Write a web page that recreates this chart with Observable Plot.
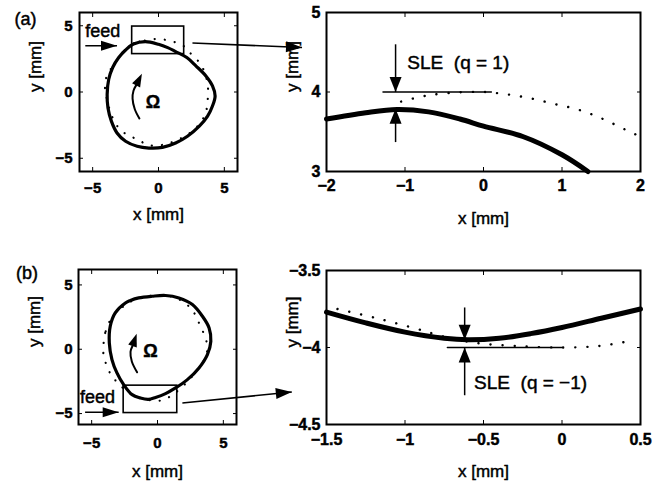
<!DOCTYPE html>
<html><head><meta charset="utf-8">
<script src="https://cdn.jsdelivr.net/npm/d3@7"></script>
<script src="https://cdn.jsdelivr.net/npm/@observablehq/plot@0.6"></script>
<style>
body{margin:0;background:#fff;}
#fig{position:relative;width:661px;height:489px;overflow:hidden;background:#fff;}
#fig > div{position:absolute;}
#fig svg{overflow:visible;}
#fig svg text{stroke:black;stroke-width:0.45px;}
</style></head><body><div id="fig"></div>
<script>
const FONT = "'Liberation Sans', Arial, Helvetica, sans-serif";

// ---------- tick values ----------
const loopTicks = [-5, 0, 5];
const zoomAXTicks = [-2, -1, 0, 1, 2];
const zoomAYTicks = [3, 4, 5];
const zoomBXTicks = [-1.5, -1, -0.5, 0, 0.5];
const zoomBYTicks = [-4.5, -4, -3.5];

// ---------- panel (a) full loop ----------
const loopASolid = [[-2.5,3.17],[-1.9,3.62],[-1.0,3.8],[0.0,3.6],[0.7,3.35],[1.3,3.05],[2.15,2.6],[2.84,1.97],[3.6,1.21],[4.1,0.46],[4.3,-0.3],[4.1,-1.06],[3.73,-1.82],[3.1,-2.58],[2.2,-3.34],[1.3,-3.85],[0.3,-4.18],[-0.73,-4.23],[-1.62,-4.1],[-2.5,-3.72],[-3.15,-3.09],[-3.58,-2.2],[-3.84,-1.19],[-3.9,-0.18],[-3.78,0.96],[-3.48,1.85],[-3.02,2.6]];
const loopADotted = [[-1.6,3.75],[-1.05,3.88],[-0.4,3.99],[0.3,3.97],[0.9,3.85],[1.5,3.67],[2.0,3.4],[2.4,2.95],[3.04,2.3],[3.5,1.5],[3.75,0.4],[3.73,-0.68],[3.6,-1.5],[3.2,-2.3],[2.5,-3.0],[1.6,-3.55],[0.5,-3.95],[-0.4,-4.05],[-0.9,-3.97],[-1.54,-3.6],[-2.31,-3.27],[-3.02,-2.71],[-3.55,-1.8],[-3.91,-0.56],[-4.04,0.08],[-4.04,0.84],[-3.7,1.6],[-3.1,2.5],[-2.4,3.3]];
const boxA = [{x1:-2.0, x2:1.95, y1:2.86, y2:4.94}];
const feedArrowA = [{x1:-5.56, y1:3.49, x2:-3.15, y2:3.49}];
const feedTextA = [{x:-5.57, y:4.56, label:"feed"}];
const linkArrowA = [{x1:2.58, y1:3.7, x2:10.9, y2:3.36}];
const omegaArcA = [[-1.45,-2.0],[-1.8,-1.3],[-1.97,-0.5],[-1.9,0.1],[-1.7,0.5]];
const omegaTextA = [{x:-0.42, y:-0.74, label:"Ω"}];

// ---------- panel (a) zoom ----------
const zoomASolid = [[-2,3.66],[-1.5,3.74],[-1.1,3.78],[-0.7,3.75],[-0.3,3.66],[0,3.57],[0.5,3.44],[1,3.21],[1.33,3.0]];
const zoomADotted = [[-1.05,3.88],[-0.75,3.95],[-0.4,3.99],[0,4.0],[0.3,3.97],[0.6,3.92],[0.9,3.85],[1.2,3.78],[1.5,3.67],[1.8,3.53],[1.95,3.46]];
const sleLineA = [[-1.28,4],[0.1,4]];
const sleArrowsA = [{x1:-1.12, y1:4.6, x2:-1.12, y2:4.0},{x1:-1.12, y1:3.37, x2:-1.12, y2:3.79}];
const sleTextA = [{x:-0.97, y:4.29, label:"SLE  (q = 1)"}];

// ---------- panel (b) full loop ----------
const loopBSolid = [[-2.06,3.79],[-2.44,3.6],[-3.21,2.83],[-3.59,1.79],[-3.66,0.49],[-3.46,-0.8],[-3.08,-1.84],[-2.57,-2.75],[-1.93,-3.53],[-1.3,-3.79],[-0.7,-3.9],[-0.15,-3.75],[0.61,-3.45],[1.37,-3.01],[2.27,-2.36],[3.15,-1.45],[3.79,-0.41],[4.05,0.62],[3.92,1.66],[3.41,2.57],[2.65,3.48],[1.63,3.99],[0.61,4.18],[-0.41,4.12],[-1.43,3.99]];
const loopBDotted = [[-3.5,2.4],[-3.97,1.27],[-4.1,0.36],[-4.1,-0.41],[-3.84,-1.32],[-3.46,-2.1],[-2.95,-2.67],[-2.3,-3.3],[-1.5,-3.7],[-0.6,-3.95],[0.3,-3.98],[1.2,-3.5],[2.2,-2.6],[3.1,-1.5],[3.65,-0.6],[3.79,0.23],[3.54,1.14],[3.15,2.05],[2.6,3.1],[1.6,3.9],[0.5,4.2],[-0.5,4.15],[-1.5,3.95],[-2.5,3.4]];
const boxB = [{x1:-2.57, x2:1.5, y1:-4.96, y2:-2.83}];
const feedArrowB = [{x1:-5.5, y1:-4.9, x2:-2.95, y2:-4.9}];
const feedTextB = [{x:-5.88, y:-3.73, label:"feed"}];
const linkArrowB = [{x1:1.89, y1:-4.18, x2:10.2, y2:-3.32}];
const omegaArcB = [[-1.55,-1.79],[-1.95,-0.95],[-2.05,-0.2],[-1.9,0.25]];
const omegaTextB = [{x:-0.53, y:-0.16, label:"Ω"}];

// ---------- panel (b) zoom ----------
const zoomBSolid = [[-1.5,-3.77],[-1.25,-3.84],[-1,-3.9],[-0.75,-3.94],[-0.6,-3.95],[-0.4,-3.94],[-0.2,-3.91],[0,-3.87],[0.25,-3.81],[0.5,-3.75]];
const zoomBDotted = [[-1.43,-3.75],[-1.18,-3.81],[-0.92,-3.88],[-0.75,-3.93],[-0.55,-3.97],[-0.3,-3.99],[0,-4.0],[0.24,-3.99],[0.42,-3.96]];
const sleLineB = [[-0.73,-4],[0,-4]];
const sleArrowsB = [{x1:-0.62, y1:-3.74, x2:-0.62, y2:-3.95},{x1:-0.62, y1:-4.31, x2:-0.62, y2:-4.0}];
const sleTextB = [{x:-0.56, y:-4.27, label:"SLE  (q = \u22121)"}];

const axisTitleX = "x [mm]";
const axisTitleY = "y [mm]";

// ---------- helpers ----------
const tickFmt = d => String(d).replace("-", "\u2212");
function angle(x1, y1, x2, y2, k) {
  const dx = (x2 - x1) * k.kx, dy = -(y2 - y1) * k.ky;
  return Math.atan2(dx, -dy) * 180 / Math.PI;
}
function arrows(data, k, {w = 1.5, L = 14, R = 5} = {}) {
  return [
    Plot.link(data, {x1: "x1", y1: "y1", x2: "x2", y2: "y2", stroke: "black", strokeWidth: w}),
    Plot.vector(data, {x: "x2", y: "y2", rotate: d => angle(d.x1, d.y1, d.x2, d.y2, k),
      length: L, r: R, shape: "spike", anchor: "end", fill: "black", stroke: "none"})
  ];
}
function omega(arc, k) {
  const a = arc[arc.length - 2], b = arc[arc.length - 1];
  return [
    Plot.line(arc, {curve: "catmull-rom", stroke: "black", strokeWidth: 2}),
    Plot.vector([b], {x: d => d[0], y: d => d[1], rotate: angle(a[0], a[1], b[0], b[1], k),
      length: 13, r: 4.5, shape: "spike", anchor: "start", fill: "black", stroke: "none"})
  ];
}
const dotted = (data, extra = {}) => Plot.line(data, {stroke: "black", strokeWidth: 2.2, strokeDasharray: "0.1 11", strokeLinecap: "round", ...extra});

function panel(cfg) {
  const fw = cfg.width - cfg.ml - cfg.mr, fh = cfg.height - cfg.mt - cfg.mb;
  const k = {kx: fw / (cfg.xd[1] - cfg.xd[0]), ky: fh / (cfg.yd[1] - cfg.yd[0])};
  const marks = [
    Plot.frame({stroke: "black", strokeWidth: 2}),
    Plot.axisX(cfg.xt, {anchor: "bottom", tickSize: 0, tickPadding: cfg.xpad, label: null, fontSize: cfg.tf, fontWeight: "bold", tickFormat: tickFmt}),
    Plot.axisY(cfg.yt, {anchor: "left", tickSize: 0, tickPadding: cfg.ypad, label: null, fontSize: cfg.tf, fontWeight: "bold", tickFormat: tickFmt}),
    Plot.axisX(cfg.xt, {anchor: "bottom", tickSize: -4, tickFormat: () => "", label: null}),
    Plot.axisX(cfg.xt, {anchor: "top", tickSize: -4, tickFormat: () => "", label: null}),
    Plot.axisY(cfg.yt, {anchor: "left", tickSize: -4, tickFormat: () => "", label: null}),
    Plot.axisY(cfg.yt, {anchor: "right", tickSize: -4, tickFormat: () => "", label: null}),
    Plot.text([axisTitleX], {frameAnchor: "bottom", dy: cfg.xldy, text: d => d, fontSize: cfg.lf, lineAnchor: "middle", ariaLabel: "axis-title"}),
    Plot.text([axisTitleY], {frameAnchor: "left", dx: cfg.yldx, rotate: -90, text: d => d, fontSize: cfg.lf, lineAnchor: "middle", ariaLabel: "axis-title"}),
    ...cfg.marks(k)
  ];
  const p = Plot.plot({
    width: cfg.width, height: cfg.height,
    marginLeft: cfg.ml, marginRight: cfg.mr, marginTop: cfg.mt, marginBottom: cfg.mb,
    x: {domain: cfg.xd}, y: {domain: cfg.yd},
    style: {fontFamily: FONT, fontSize: cfg.tf + "px", color: "black", background: "transparent", overflow: "visible"},
    marks
  });
  p.querySelectorAll('g[aria-label="axis-title"] text').forEach(t => {
    const s = t.textContent;
    t.textContent = "";
    const i = document.createElementNS("http://www.w3.org/2000/svg", "tspan");
    i.setAttribute("font-style", "italic");
    i.textContent = s[0];
    t.appendChild(i);
    t.appendChild(document.createTextNode(s.slice(1)));
  });
  const d = document.createElement("div");
  d.style.left = cfg.left + "px"; d.style.top = cfg.top + "px";
  d.style.width = cfg.width + "px"; d.style.height = cfg.height + "px";
  d.appendChild(p);
  document.getElementById("fig").appendChild(d);
}

const txt = (data, o) => Plot.text(data, {x: "x", y: "y", text: "label", ...o});

// (a) full loop
panel({left: 0, top: 0, width: 240, height: 240, ml: 79, mr: 3, mt: 12, mb: 69,
  xd: [-6, 6], yd: [-6, 6], xt: loopTicks, yt: loopTicks, tf: 15, lf: 17,
  xpad: 11, ypad: 7, xldy: 43.5, yldx: -44,
  marks: k => [
    dotted(loopADotted, {curve: "catmull-rom-closed", strokeDasharray: "0.1 10"}),
    Plot.line(loopASolid, {curve: "catmull-rom-closed", stroke: "black", strokeWidth: 3.2}),
    Plot.rect(boxA, {x1: "x1", x2: "x2", y1: "y1", y2: "y2", fill: "none", stroke: "black", strokeWidth: 1.6}),
    ...arrows(feedArrowA, k, {w: 1.6, L: 16, R: 5}),
    ...arrows(linkArrowA, k, {w: 1.6, L: 16, R: 5.5}),
    txt(feedTextA, {textAnchor: "start", lineAnchor: "middle", fontSize: 18}),
    ...omega(omegaArcA, k),
    txt(omegaTextA, {fontSize: 18, fontWeight: "bold", lineAnchor: "middle"}),
    Plot.text(["(a)"], {frameAnchor: "top-left", dx: -54, dy: 7, text: d => d, fontSize: 18, textAnchor: "middle", lineAnchor: "middle"})
  ]});

// (a) zoom
panel({left: 240, top: 0, width: 421, height: 240, ml: 86, mr: 21, mt: 12, mb: 69,
  xd: [-2, 2], yd: [3, 5], xt: zoomAXTicks, yt: zoomAYTicks, tf: 16, lf: 17,
  xpad: 8, ypad: 6, xldy: 47, yldx: -34,
  marks: k => [
    dotted(zoomADotted, {curve: "catmull-rom", strokeDasharray: "0.1 12", strokeWidth: 2.4}),
    Plot.line(zoomASolid, {curve: "catmull-rom", stroke: "black", strokeWidth: 5}),
    Plot.line(sleLineA, {stroke: "black", strokeWidth: 1.5}),
    ...arrows(sleArrowsA, k, {w: 1.5, L: 15, R: 6}),
    txt(sleTextA, {textAnchor: "start", lineAnchor: "bottom", fontSize: 19})
  ]});

// (b) full loop
panel({left: 0, top: 250, width: 240, height: 239, ml: 78, mr: 4, mt: 19, mb: 65,
  xd: [-6, 6], yd: [-5.85, 6.2], xt: loopTicks, yt: loopTicks, tf: 15, lf: 17,
  xpad: 13, ypad: 6, xldy: 47.5, yldx: -43.5,
  marks: k => [
    dotted(loopBDotted, {curve: "catmull-rom-closed", strokeDasharray: "0.1 10"}),
    Plot.line(loopBSolid, {curve: "catmull-rom-closed", stroke: "black", strokeWidth: 3.2}),
    Plot.rect(boxB, {x1: "x1", x2: "x2", y1: "y1", y2: "y2", fill: "none", stroke: "black", strokeWidth: 1.6}),
    ...arrows(feedArrowB, k, {w: 1.6, L: 16, R: 5}),
    ...arrows(linkArrowB, k, {w: 1.6, L: 16, R: 5.5}),
    txt(feedTextB, {textAnchor: "start", lineAnchor: "middle", fontSize: 18}),
    ...omega(omegaArcB, k),
    txt(omegaTextB, {fontSize: 18, fontWeight: "bold", lineAnchor: "middle"}),
    Plot.text(["(b)"], {frameAnchor: "top-left", dx: -51.5, dy: 3.5, text: d => d, fontSize: 18, textAnchor: "middle", lineAnchor: "middle"})
  ]});

// (b) zoom
panel({left: 240, top: 250, width: 421, height: 239, ml: 86, mr: 21, mt: 20, mb: 65,
  xd: [-1.5, 0.5], yd: [-4.5, -3.5], xt: zoomBXTicks, yt: zoomBYTicks, tf: 16, lf: 17,
  xpad: 9, ypad: 6, xldy: 47, yldx: -34,
  marks: k => [
    dotted(zoomBDotted, {curve: "catmull-rom", strokeDasharray: "0.1 12", strokeWidth: 2.4}),
    Plot.line(zoomBSolid, {curve: "catmull-rom", stroke: "black", strokeWidth: 5}),
    Plot.line(sleLineB, {stroke: "black", strokeWidth: 1.5}),
    ...arrows(sleArrowsB, k, {w: 1.5, L: 15, R: 6}),
    txt(sleTextB, {textAnchor: "start", lineAnchor: "bottom", fontSize: 19})
  ]});
</script></body></html>
